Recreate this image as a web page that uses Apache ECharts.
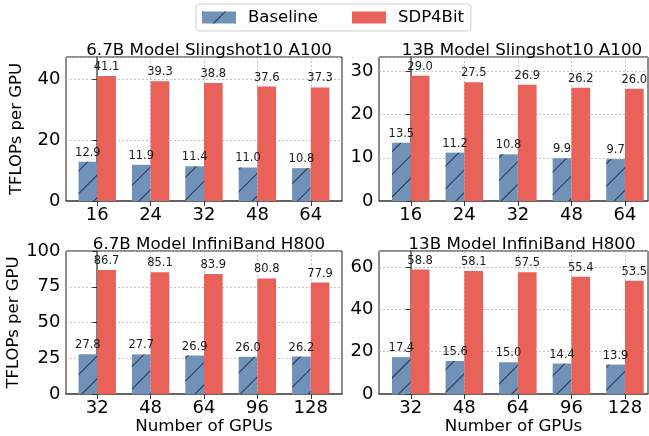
<!DOCTYPE html>
<html>
<head>
<meta charset="utf-8">
<script src="https://cdn.jsdelivr.net/npm/echarts@6/dist/echarts.min.js"></script>
<style>
  html, body { margin: 0; padding: 0; background: #ffffff; }
  #chart { width: 649px; height: 436px; }
</style>
</head>
<body>
<div id="chart"></div>
<script>
// Per-GPU throughput (TFLOPs) for Baseline vs SDP4Bit across four setups
const panelTitles = [
  '6.7B Model Slingshot10 A100',
  '13B Model Slingshot10 A100',
  '6.7B Model InfiniBand H800',
  '13B Model InfiniBand H800'
];
const gpuCounts = [
  ['16', '24', '32', '48', '64'],
  ['16', '24', '32', '48', '64'],
  ['32', '48', '64', '96', '128'],
  ['32', '48', '64', '96', '128']
];
const baselineTflops = [
  [12.9, 11.9, 11.4, 11.0, 10.8],
  [13.5, 11.2, 10.8, 9.9, 9.7],
  [27.8, 27.7, 26.9, 26.0, 26.2],
  [17.4, 15.6, 15.0, 14.4, 13.9]
];
const sdp4bitTflops = [
  [41.1, 39.3, 38.8, 37.6, 37.3],
  [29.0, 27.5, 26.9, 26.2, 26.0],
  [86.7, 85.1, 83.9, 80.8, 77.9],
  [58.8, 58.1, 57.5, 55.4, 53.5]
];
const yAxisMax = [47.3, 33.35, 100, 67.6];
const yAxisStep = [20, 10, 25, 20];
const seriesNames = ['Baseline', 'SDP4Bit'];
const xAxisLabel = 'Number of GPUs';
const yAxisLabel = 'TFLOPs per GPU';

const FONT = 'DejaVu Sans';
const BLUE = '#7092b8';
const RED = '#e8625a';
const GRIDLINE = { type: [2, 2], color: '#b4b4b4', width: 0.8 };

// panel boxes in pixels: [left, top, width, height, xMin, xMax, titleCenterX]
const boxes = [
  [66, 57, 276, 144, -0.585, 4.585, 204],
  [379, 57, 269, 144, -0.593, 4.43, 517],
  [66, 251, 276, 145, -0.585, 4.585, 204],
  [379, 251, 269, 145, -0.593, 4.43, 517]
];

const grids = [], xAxes = [], yAxes = [], series = [], titles = [];

boxes.forEach((b, i) => {
  const [left, top, width, height, xMin, xMax, titleX] = b;
  grids.push({
    left: left, top: top, width: width, height: height,
    show: true, borderColor: '#1a1a1a', borderWidth: 1, backgroundColor: 'transparent'
  });
  const ticks = gpuCounts[i].map((_, j) => j);
  const bottomRow = i >= 2;
  xAxes.push({
    type: 'value', gridIndex: i, min: xMin, max: xMax,
    name: bottomRow ? xAxisLabel : '',
    nameLocation: 'middle', nameGap: 24,
    nameTextStyle: { fontFamily: FONT, fontSize: 16.7, color: '#000' },
    axisLine: { show: true, onZero: false, lineStyle: { color: '#555', width: 1.5 } },
    axisTick: { show: true, length: 5, customValues: ticks, lineStyle: { color: '#333' } },
    axisLabel: {
      customValues: ticks, margin: 5,
      fontFamily: FONT, fontSize: 18, color: '#000',
      formatter: (v) => gpuCounts[i][Math.round(v)]
    },
    splitLine: { show: true, lineStyle: GRIDLINE }
  });
  const leftCol = i % 2 === 0;
  yAxes.push({
    type: 'value', gridIndex: i, min: 0, max: yAxisMax[i], interval: yAxisStep[i],
    name: leftCol ? yAxisLabel : '',
    nameLocation: 'middle', nameGap: 41, nameRotate: 90,
    nameTextStyle: { fontFamily: FONT, fontSize: 16.5, color: '#000' },
    axisLine: { show: true, lineStyle: { color: '#555', width: 1.5 } },
    axisTick: { show: true, length: 5, lineStyle: { color: '#333' } },
    axisLabel: {
      margin: 5.5, fontFamily: FONT, fontSize: 18, color: '#000',
      showMaxLabel: yAxisMax[i] % yAxisStep[i] === 0
    },
    splitLine: { show: true, lineStyle: GRIDLINE }
  });
  titles.push({
    text: panelTitles[i],
    left: titleX, top: top - 20, textAlign: 'center',
    textStyle: { fontFamily: FONT, fontSize: 16.7, fontWeight: 'normal', color: '#000' }
  });
  const label = {
    show: true, position: 'top', distance: 3,
    fontFamily: FONT, fontSize: 11.5, color: '#1a1a1a',
    formatter: (p) => p.value[1].toFixed(1)
  };
  series.push({
    name: seriesNames[0], type: 'bar', xAxisIndex: i, yAxisIndex: i,
    barWidth: '35%', barGap: '0%',
    data: baselineTflops[i].map((v, j) => [j, v]),
    itemStyle: {
      color: BLUE,
      decal: {
        symbol: 'rect', symbolSize: 1,
        dashArrayX: [1, 0], dashArrayY: [1, 15],
        rotation: -Math.PI / 4, color: 'rgba(25,35,55,0.85)'
      }
    },
    label: label
  });
  series.push({
    name: seriesNames[1], type: 'bar', xAxisIndex: i, yAxisIndex: i,
    barWidth: '35%', barGap: '0%',
    data: sdp4bitTflops[i].map((v, j) => [j, v]),
    itemStyle: { color: RED },
    label: label
  });
});

const chart = echarts.init(document.getElementById('chart'), null, { renderer: 'canvas' });
chart.setOption({
  animation: false,
  backgroundColor: '#ffffff',
  title: titles,
  legend: {
    data: seriesNames,
    left: 196, top: 4,
    padding: [5, 7, 5, 6],
    itemWidth: 34, itemHeight: 12, itemGap: 34,
    icon: 'rect',
    borderColor: '#d0d0d0', borderWidth: 1, borderRadius: 3,
    textStyle: { fontFamily: FONT, fontSize: 16.5, color: '#000', padding: [0, 0, 0, 7] }
  },
  grid: grids,
  xAxis: xAxes,
  yAxis: yAxes,
  series: series
});
</script>
</body>
</html>
